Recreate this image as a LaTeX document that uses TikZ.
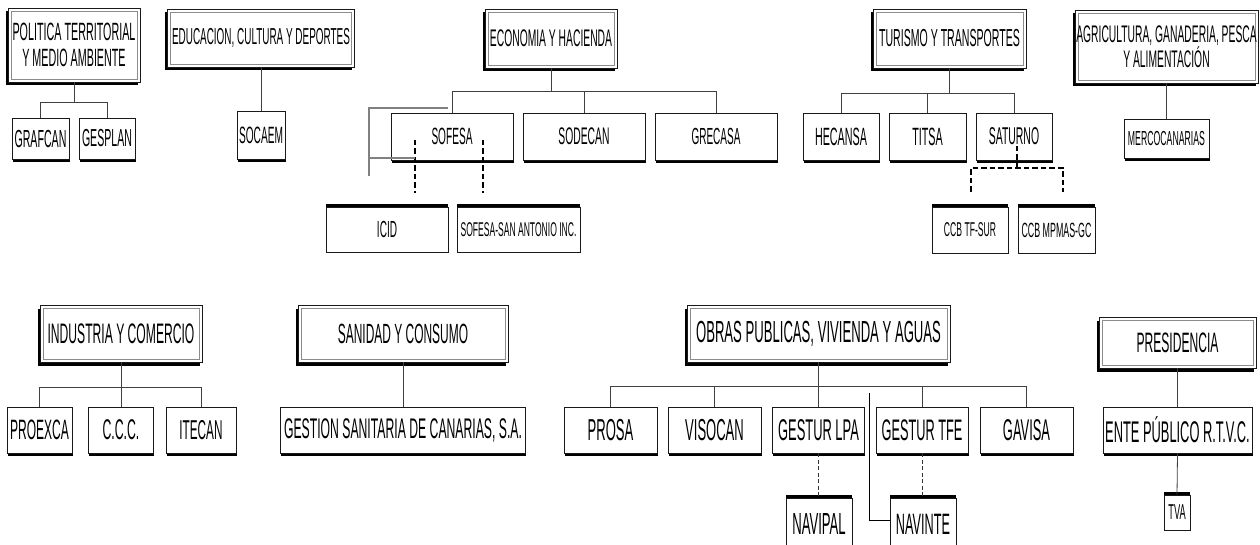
\documentclass[tikz,border=0pt]{standalone}
\usepackage{fontspec}
\setmainfont{Liberation Sans}[FakeStretch=0.43]
\usetikzlibrary{shadows,calc}
\newcommand\fsl[2]{\fontsize{#1}{#2}\selectfont}
\begin{document}
\begin{tikzpicture}[x=1pt,y=-1pt,
  conn/.style={draw=black!75, line width=0.8pt},
  artline/.style={draw=black!50, line width=1.3pt},
  dashthick/.style={draw=black, line width=2pt, dash pattern=on 5.5pt off 3pt},
  dashthin/.style={draw=black!80, line width=0.8pt, dash pattern=on 4pt off 2.5pt},
  basebox/.style={draw=black!90, line width=0.8pt, fill=white, inner sep=0pt, align=center},
  mbox/.style={basebox,
    drop shadow={shadow xshift=-2.5pt, shadow yshift=-3.5pt, opacity=1, fill=black},
    path picture={\draw[black!45, line width=0.7pt]
      ([shift={(3pt,-3pt)}]path picture bounding box.north west) rectangle
      ([shift={(-3pt,3pt)}]path picture bounding box.south east);}},
  cbox/.style={basebox,
    drop shadow={shadow xshift=0.6pt, shadow yshift=-3pt, opacity=1, fill=black}},
  tbox/.style={basebox,
    drop shadow={shadow xshift=0pt, shadow yshift=3pt, opacity=1, fill=black}},
]
\path[use as bounding box, clip] (0,0) rectangle (1260,545);
\fill[white] (0,0) rectangle (1260,545);

% ---------- ministries ----------
\node[mbox, minimum width=132pt, minimum height=74pt, font=\fsl{25}{26}] (pol) at (74,45) {POLITICA TERRITORIAL\\Y MEDIO AMBIENTE};
\node[mbox, minimum width=187pt, minimum height=58pt, font=\fsl{23.1}{24}] (edu) at (261,38) {EDUCACION, CULTURA Y DEPORTES};
\node[mbox, minimum width=132pt, minimum height=59pt, font=\fsl{24}{25}] (eco) at (551,38.5) {ECONOMIA Y HACIENDA};
\node[mbox, minimum width=153pt, minimum height=59pt, font=\fsl{24.6}{25}] (tur) at (949.5,38.5) {TURISMO Y TRANSPORTES};
\node[mbox, minimum width=183pt, minimum height=73pt, font=\fsl{24}{25}] (agr) at (1166.5,46.5) {AGRICULTURA, GANADERIA, PESCA\\Y ALIMENTACIÓN};
\node[mbox, minimum width=162pt, minimum height=57pt, font=\fsl{28.2}{29}] (ind) at (121,333.5) {INDUSTRIA Y COMERCIO};
\node[mbox, minimum width=210pt, minimum height=57pt, font=\fsl{27.8}{29}] (san) at (403,333.5) {SANIDAD Y CONSUMO};
\node[mbox, minimum width=263pt, minimum height=57pt, font=\fsl{30.5}{31}] (obr) at (818.5,333.5) {OBRAS PUBLICAS, VIVIENDA Y AGUAS};
\node[mbox, minimum width=157pt, minimum height=51pt, font=\fsl{28.1}{29}] (pre) at (1177.5,342.5) {PRESIDENCIA};

% ---------- companies ----------
\node[cbox, minimum width=57pt, minimum height=41pt, font=\fsl{24.7}{25}] (grafcan) at (40.5,138.5) {GRAFCAN};
\node[cbox, minimum width=56pt, minimum height=41pt, font=\fsl{24.6}{25}] (gesplan) at (107,138.5) {GESPLAN};
\node[cbox, minimum width=48pt, minimum height=48pt, font=\fsl{23.6}{24}] (socaem) at (261,135) {SOCAEM};
\node[cbox, minimum width=122pt, minimum height=47pt, font=\fsl{23.5}{24}] (sofesa) at (452,136.5) {SOFESA};
\node[cbox, minimum width=122pt, minimum height=47pt, font=\fsl{24}{24}] (sodecan) at (584,136.5) {SODECAN};
\node[cbox, minimum width=122pt, minimum height=47pt, font=\fsl{23.3}{24}] (grecasa) at (716,136.5) {GRECASA};
\node[tbox, minimum width=122pt, minimum height=45pt, font=\fsl{23.3}{24}] (icid) at (387,229.5) {ICID};
\node[tbox, minimum width=123pt, minimum height=45pt, font=\fsl{19.9}{20}] (sofsa) at (518.5,229.5) {SOFESA-SAN ANTONIO INC.};
\node[cbox, minimum width=76pt, minimum height=47pt, font=\fsl{25}{25}] (hecansa) at (841,136.5) {HECANSA};
\node[cbox, minimum width=77pt, minimum height=47pt, font=\fsl{25}{25}] (titsa) at (927.5,136.5) {TITSA};
\node[cbox, minimum width=76pt, minimum height=47pt, font=\fsl{24.3}{25}] (saturno) at (1014,136.5) {SATURNO};
\node[tbox, minimum width=76pt, minimum height=46pt, font=\fsl{20}{20}] (ccbtf) at (970,230) {CCB TF-SUR};
\node[tbox, minimum width=77pt, minimum height=46pt, font=\fsl{20.6}{21}] (ccbmp) at (1056.5,230) {CCB MPMAS-GC};
\node[cbox, minimum width=85pt, minimum height=39pt, font=\fsl{20.3}{21}] (merco) at (1166.5,138.5) {MERCOCANARIAS};
\node[cbox, minimum width=65pt, minimum height=46pt, font=\fsl{28}{28}] (proexca) at (39.5,430) {PROEXCA};
\node[cbox, minimum width=65pt, minimum height=46pt, font=\fsl{28.5}{28}] (ccc) at (121,430) {C.C.C.};
\node[cbox, minimum width=70pt, minimum height=46pt, font=\fsl{27.3}{28}] (itecan) at (201,430) {ITECAN};
\node[cbox, minimum width=245pt, minimum height=46pt, font=\fsl{28.4}{28}] (gestion) at (403,430) {GESTION SANITARIA DE CANARIAS, S.A.};
\node[cbox, minimum width=93pt, minimum height=46pt, font=\fsl{30.3}{30}] (prosa) at (610.5,430) {PROSA};
\node[cbox, minimum width=93pt, minimum height=46pt, font=\fsl{30.3}{30}] (visocan) at (714.5,430) {VISOCAN};
\node[cbox, minimum width=92pt, minimum height=46pt, font=\fsl{30}{30}] (gesturlpa) at (818.5,430) {GESTUR LPA};
\node[cbox, minimum width=92pt, minimum height=46pt, font=\fsl{29.7}{30}] (gesturtfe) at (922,430) {GESTUR TFE};
\node[cbox, minimum width=93pt, minimum height=46pt, font=\fsl{30}{30}] (gavisa) at (1026.5,430) {GAVISA};
\node[tbox, minimum width=66pt, minimum height=52pt, font=\fsl{30.5}{30}] (navipal) at (819,524) {NAVIPAL};
\node[tbox, minimum width=66pt, minimum height=52pt, font=\fsl{29.5}{30}] (navinte) at (923,524) {NAVINTE};
\node[cbox, minimum width=149pt, minimum height=46pt, font=\fsl{29.9}{30}] (ente) at (1177.5,430) {ENTE PÚBLICO R.T.V.C.};
\node[tbox, minimum width=26pt, minimum height=35pt, font=\fsl{21.5}{22}] (tva) at (1177,512.5) {TVA};

% ---------- bus coordinates ----------
\coordinate (polbus) at (74,102);
\coordinate (ecobus) at (551,91);
\coordinate (turbus) at (949.5,93);
\coordinate (indbus) at (121,387);
\coordinate (obrbus) at (818.5,386);

% ---------- connectors ----------
\draw[conn] (pol.south) -- (polbus);
\foreach \c in {grafcan,gesplan} \draw[conn] (polbus) -| (\c.north);
\draw[conn] (edu.south) -- (socaem.north);
\draw[conn] (eco.south) -- (ecobus);
\foreach \c in {sofesa,sodecan,grecasa} \draw[conn] (ecobus) -| (\c.north);
\draw[conn] (tur.south) -- (turbus);
\foreach \c in {hecansa,titsa,saturno} \draw[conn] (turbus) -| (\c.north);
\draw[conn] (agr.south) -- (merco.north);
\draw[conn] (ind.south) -- (indbus);
\foreach \c in {proexca,ccc,itecan} \draw[conn] (indbus) -| (\c.north);
\draw[conn] (san.south) -- (gestion.north);
\draw[conn] (obr.south) -- (obrbus);
\foreach \c in {prosa,visocan,gesturlpa,gesturtfe,gavisa} \draw[conn] (obrbus) -| (\c.north);
\draw[conn] (pre.south) -- (ente.north);
\draw[conn] (ente.south) -- (tva.north);

% dashed links
\coordinate (sfa) at (415,140);
\coordinate (sfb) at (483,140);
\draw[dashthick, shorten >=14pt] (sfa) -- (sfa |- icid.north);
\draw[dashthick, shorten >=14pt] (sfb) -- (sfb |- sofsa.north);
\coordinate (satd) at (1017,146);
\coordinate (satbus) at (1017,168);
\coordinate (sL) at (971,168);
\coordinate (sR) at (1063,168);
\draw[dashthick] (satd) -- (satbus);
\draw[dashthick, shorten <=15pt, shorten >=15pt] (sL |- ccbtf.north) -- (sL) -- (sR) -- (sR |- ccbmp.north);
\draw[dashthin] (gesturlpa.south) -- (gesturlpa.south |- navipal.north);
\draw[dashthin] (gesturtfe.south) -- (gesturtfe.south |- navinte.north);

% stray lines
\coordinate (a1) at (369,108);
\coordinate (a2) at (448,108);
\coordinate (a3) at (369,176);
\coordinate (a4) at (369,158);
\draw[artline] (a2) -- (a1) -- (a3);
\draw[artline] (a4) -- (sfa |- a4);
\coordinate (navl) at (869,393);
\draw[conn, draw=black] (navl) |- ($(navinte.west)+(0,-4)$);
\end{tikzpicture}
\end{document}
